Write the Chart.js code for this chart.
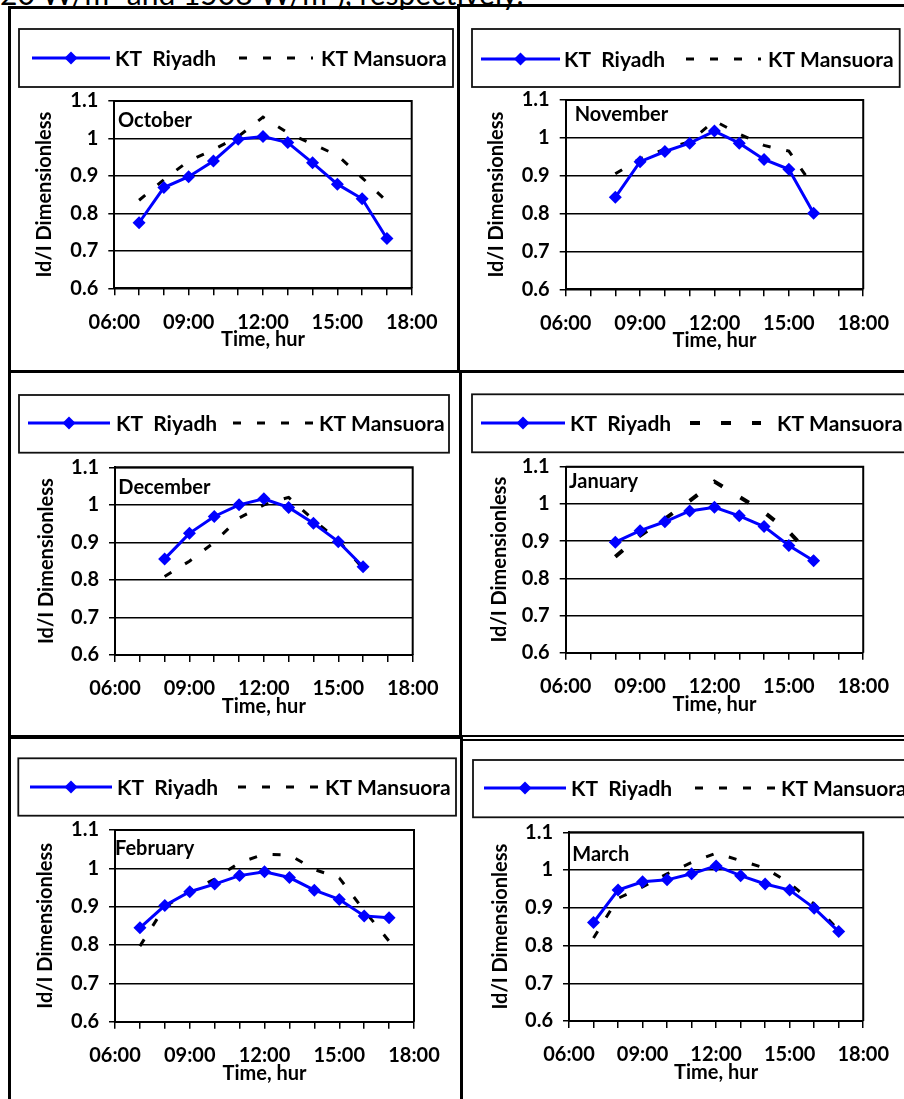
<!DOCTYPE html>
<html><head><meta charset="utf-8">
<script src="https://cdn.jsdelivr.net/npm/chart.js@4.4.0/dist/chart.umd.min.js"></script>
<style>
html,body{margin:0;padding:0;background:#fff;}
body{width:904px;height:1099px;overflow:hidden;position:relative;font-family:Lato,sans-serif;}
.ln{position:absolute;background:#000;z-index:5;}
.cv{position:absolute;}
#top{position:absolute;left:0px;top:-25px;font-size:30px;line-height:36px;color:#000;white-space:nowrap;font-family:Lato,sans-serif;}
</style></head><body>
<div id="top">20 W/m² and 1508 W/m²), respectively.</div>
<div id="holder"></div>
<div class="ln" style="left:8px;top:6px;width:452px;height:3px"></div>
<div class="ln" style="left:458px;top:4px;width:446px;height:3px"></div>
<div class="ln" style="left:8px;top:6px;width:3px;height:1093px"></div>
<div class="ln" style="left:457px;top:4px;width:3px;height:369px"></div>
<div class="ln" style="left:8px;top:370px;width:896px;height:3px"></div>
<div class="ln" style="left:459px;top:370px;width:3px;height:368px"></div>
<div class="ln" style="left:8px;top:735px;width:454px;height:4px"></div>
<div class="ln" style="left:460px;top:735px;width:444px;height:2px"></div>
<div class="ln" style="left:460px;top:739px;width:444px;height:1.5px"></div>
<div class="ln" style="left:460px;top:735px;width:3px;height:364px"></div>
<script>
// ---- data ----
const xTickLabels = ['06:00','09:00','12:00','15:00','18:00'];
const yTickLabels = ['0.6','0.7','0.8','0.9','1','1.1'];
const months = ['October','November','December','January','February','March'];
const seriesNames = ['KT  Riyadh','KT Mansuora'];
const hours7to17 = [7,8,9,10,11,12,13,14,15,16,17];
const hours8to16 = [8,9,10,11,12,13,14,15,16];

const riyadhOct   = [0.775,0.869,0.898,0.940,0.998,1.005,0.989,0.935,0.878,0.839,0.733];
const mansouraOct = [0.835,0.890,0.940,0.970,1.005,1.057,1.015,0.985,0.955,0.895,0.832];
const riyadhNov   = [0.843,0.937,0.964,0.986,1.018,0.986,0.943,0.917,0.801];
const mansouraNov = [0.905,0.945,0.970,0.990,1.045,1.010,0.980,0.965,0.870];
const riyadhDec   = [0.856,0.924,0.969,1.000,1.016,0.993,0.951,0.902,0.835];
const mansouraDec = [0.809,0.850,0.900,0.965,1.000,1.020,0.960,0.905,0.830];
const riyadhJan   = [0.897,0.928,0.952,0.981,0.991,0.968,0.939,0.888,0.847];
const mansouraJan = [0.858,0.915,0.960,1.008,1.060,1.019,0.978,0.925,0.854];
const riyadhFeb   = [0.845,0.903,0.939,0.959,0.981,0.991,0.976,0.943,0.919,0.876,0.871];
const mansouraFeb = [0.797,0.900,0.940,0.972,1.015,1.037,1.035,0.997,0.975,0.890,0.810];
const riyadhMar   = [0.861,0.947,0.969,0.974,0.990,1.011,0.985,0.963,0.947,0.899,0.837];
const mansouraMar = [0.820,0.925,0.955,0.990,1.020,1.045,1.025,1.005,0.965,0.910,0.840];

// ---- layout / styles ----
const RIY = '#0000ff';
const FONT = 'Lato';
const panels = [
 {month:months[0], hours:hours7to17, riy:riyadhOct, man:mansouraOct,
  canvas:[11,9,446,361], plot:[114.3,101,411.7,288.3], yTitleX:44.5,
  monthPos:[118,126.7],
  legend:{box:[19,29,453,87], cy:58, sample:[32,110], t1:115, dash:[239,313], t2:321}, dash:[8,16], dashW:3},
 {month:months[1], hours:hours8to16, riy:riyadhNov, man:mansouraNov,
  canvas:[460,7,444,363], plot:[565.7,100,865.3,289.3], yTitleX:497,
  monthPos:[574.7,120.7],
  legend:{box:[472,29,899.7,87], cy:59, sample:[481,560], t1:564, dash:[686,761], t2:768}, dash:[8,16], dashW:3},
 {month:months[2], hours:hours8to16, riy:riyadhDec, man:mansouraDec,
  canvas:[11,373,448,362], plot:[115,467.3,412.7,655], yTitleX:46.5,
  monthPos:[118.3,494],
  legend:{box:[19,395,449,452.7], cy:423, sample:[28,110], t1:116, dash:[233,313], t2:319}, dash:[8,16], dashW:3},
 {month:months[3], hours:hours8to16, riy:riyadhJan, man:mansouraJan,
  canvas:[462,373,442,362], plot:[565.7,466.7,867.3,652.7], yTitleX:500,
  monthPos:[569,488.3],
  legend:{box:[472,394.3,912,452.3], cy:423, sample:[481,565], t1:570, dash:[690,761], t2:777}, dash:[10,21], dashW:4},
 {month:months[4], hours:hours7to17, riy:riyadhFeb, man:mansouraFeb,
  canvas:[11,739,449,360], plot:[115,830,414,1021.7], yTitleX:46,
  monthPos:[115,855],
  legend:{box:[18.3,758.3,456,815.7], cy:787, sample:[30,112], t1:117, dash:[238,318], t2:325}, dash:[8,16], dashW:3},
 {month:months[5], hours:hours7to17, riy:riyadhMar, man:mansouraMar,
  canvas:[463,741,441,358], plot:[569,832.3,866.3,1021], yTitleX:500.5,
  monthPos:[572.3,861],
  legend:{box:[473,760,912,817.3], cy:788, sample:[484,566], t1:571, dash:[695,775], t2:781}, dash:[8,16], dashW:3}
];

Chart.defaults.font.family = FONT;
Chart.defaults.color = '#000';

function makeDecor(p){
  const ox = p.canvas[0], oy = p.canvas[1];
  return {
    id:'decor',
    afterDraw(chart){
      const ctx = chart.ctx, a = chart.chartArea;
      ctx.save();
      ctx.setLineDash([]);
      ctx.strokeStyle = '#000'; ctx.lineWidth = 2;
      ctx.beginPath(); ctx.moveTo(a.left, a.top); ctx.lineTo(a.right, a.top); ctx.lineTo(a.right, a.bottom); ctx.stroke();
      ctx.fillStyle = '#000'; ctx.textAlign = 'left'; ctx.textBaseline = 'alphabetic';
      ctx.font = 'bold 20px ' + FONT;
      ctx.fillText(p.month, p.monthPos[0]-ox, p.monthPos[1]-oy);
      const L = p.legend;
      ctx.lineWidth = 1.8; ctx.strokeStyle = '#111';
      ctx.strokeRect(L.box[0]-ox, L.box[1]-oy, L.box[2]-L.box[0], L.box[3]-L.box[1]);
      const cy = L.cy - oy;
      ctx.strokeStyle = RIY; ctx.lineWidth = 3;
      ctx.beginPath(); ctx.moveTo(L.sample[0]-ox, cy); ctx.lineTo(L.sample[1]-ox, cy); ctx.stroke();
      const mx = (L.sample[0]+L.sample[1])/2 - ox;
      ctx.fillStyle = RIY; ctx.beginPath();
      ctx.moveTo(mx, cy-6.5); ctx.lineTo(mx+6.5, cy); ctx.lineTo(mx, cy+6.5); ctx.lineTo(mx-6.5, cy); ctx.closePath(); ctx.fill();
      ctx.fillStyle = '#000'; ctx.textBaseline = 'middle';
      ctx.font = 'bold 21px ' + FONT;
      ctx.fillText(seriesNames[0], L.t1-ox, cy+1);
      ctx.strokeStyle = '#000'; ctx.lineWidth = p.dashW; ctx.setLineDash(p.dash);
      ctx.beginPath(); ctx.moveTo(L.dash[0]-ox, cy); ctx.lineTo(L.dash[1]-ox, cy); ctx.stroke();
      ctx.setLineDash([]);
      ctx.fillText(seriesNames[1], L.t2-ox, cy+1);
      ctx.restore();
    }
  };
}

const holder = document.getElementById('holder');
panels.forEach((p) => {
  const [cx, cy, cw, ch] = p.canvas;
  const [pl, pt, pr, pb] = p.plot;
  const cvs = document.createElement('canvas');
  cvs.className = 'cv';
  cvs.width = cw; cvs.height = ch;
  cvs.style.left = cx + 'px'; cvs.style.top = cy + 'px';
  cvs.style.width = cw + 'px'; cvs.style.height = ch + 'px';
  holder.appendChild(cvs);

  const titleSize = 20, titleLH = titleSize * 1.2;
  const padLeft = p.yTitleX - titleLH/2 - cx;
  const YW = pl - cx - padLeft;
  const titleCenterY = pb + 51.7;
  const XH = titleCenterY + titleLH/2 - pb;
  const padBottom = (cy + ch) - pb - XH;

  new Chart(cvs, {
    type: 'line',
    data: {
      datasets: [
        { label: seriesNames[0], data: p.hours.map((h,i)=>({x:h, y:p.riy[i]})),
          borderColor: RIY, backgroundColor: RIY, borderWidth: 3,
          pointStyle: 'rectRot', pointRadius: 6.5, pointBorderWidth: 0,
          pointBackgroundColor: RIY, tension: 0 },
        { label: seriesNames[1], data: p.hours.map((h,i)=>({x:h, y:p.man[i]})),
          borderColor: '#000', borderWidth: p.dashW, borderDash: p.dash,
          pointRadius: 0, tension: 0 }
      ]
    },
    options: {
      responsive: false, animation: false, devicePixelRatio: 1,
      layout: { padding: { left: padLeft, top: pt - cy, right: (cx + cw) - pr, bottom: padBottom } },
      plugins: { legend: { display: false }, tooltip: { enabled: false } },
      scales: {
        x: {
          type: 'linear', min: 6, max: 18,
          afterFit: (s) => { s.height = XH; },
          ticks: { stepSize: 1, autoSkip: false, maxRotation: 0, padding: 15,
                   font: { size: 20, weight: 'bold', lineHeight: 1.2 }, color: '#000',
                   callback: (v) => (v % 3 === 0 ? xTickLabels[(v - 6) / 3] : '') },
          grid: { drawOnChartArea: false, drawTicks: true, tickLength: 7, color: '#000', lineWidth: 1.5 },
          border: { display: true, color: '#000', width: 2 },
          title: { display: true, text: 'Time, hur', padding: { top: 0, bottom: 0 },
                   font: { size: titleSize, weight: 'bold', lineHeight: 1.2 }, color: '#000' }
        },
        y: {
          min: 0.6, max: 1.1,
          afterFit: (s) => { s.width = YW; },
          ticks: { stepSize: 0.1, padding: 10, font: { size: 20, weight: 'bold' }, color: '#000',
                   callback: (v) => yTickLabels[Math.round((v - 0.6) / 0.1)] },
          grid: { color: '#000', lineWidth: 1.5, tickLength: 6, drawTicks: true },
          border: { display: true, color: '#000', width: 2 },
          title: { display: true, text: 'Id/I Dimensionless', padding: { top: 0, bottom: 0 },
                   font: { size: titleSize, weight: 'bold', lineHeight: 1.2 }, color: '#000' }
        }
      }
    },
    plugins: [makeDecor(p)]
  });
});
</script>
</body></html>
